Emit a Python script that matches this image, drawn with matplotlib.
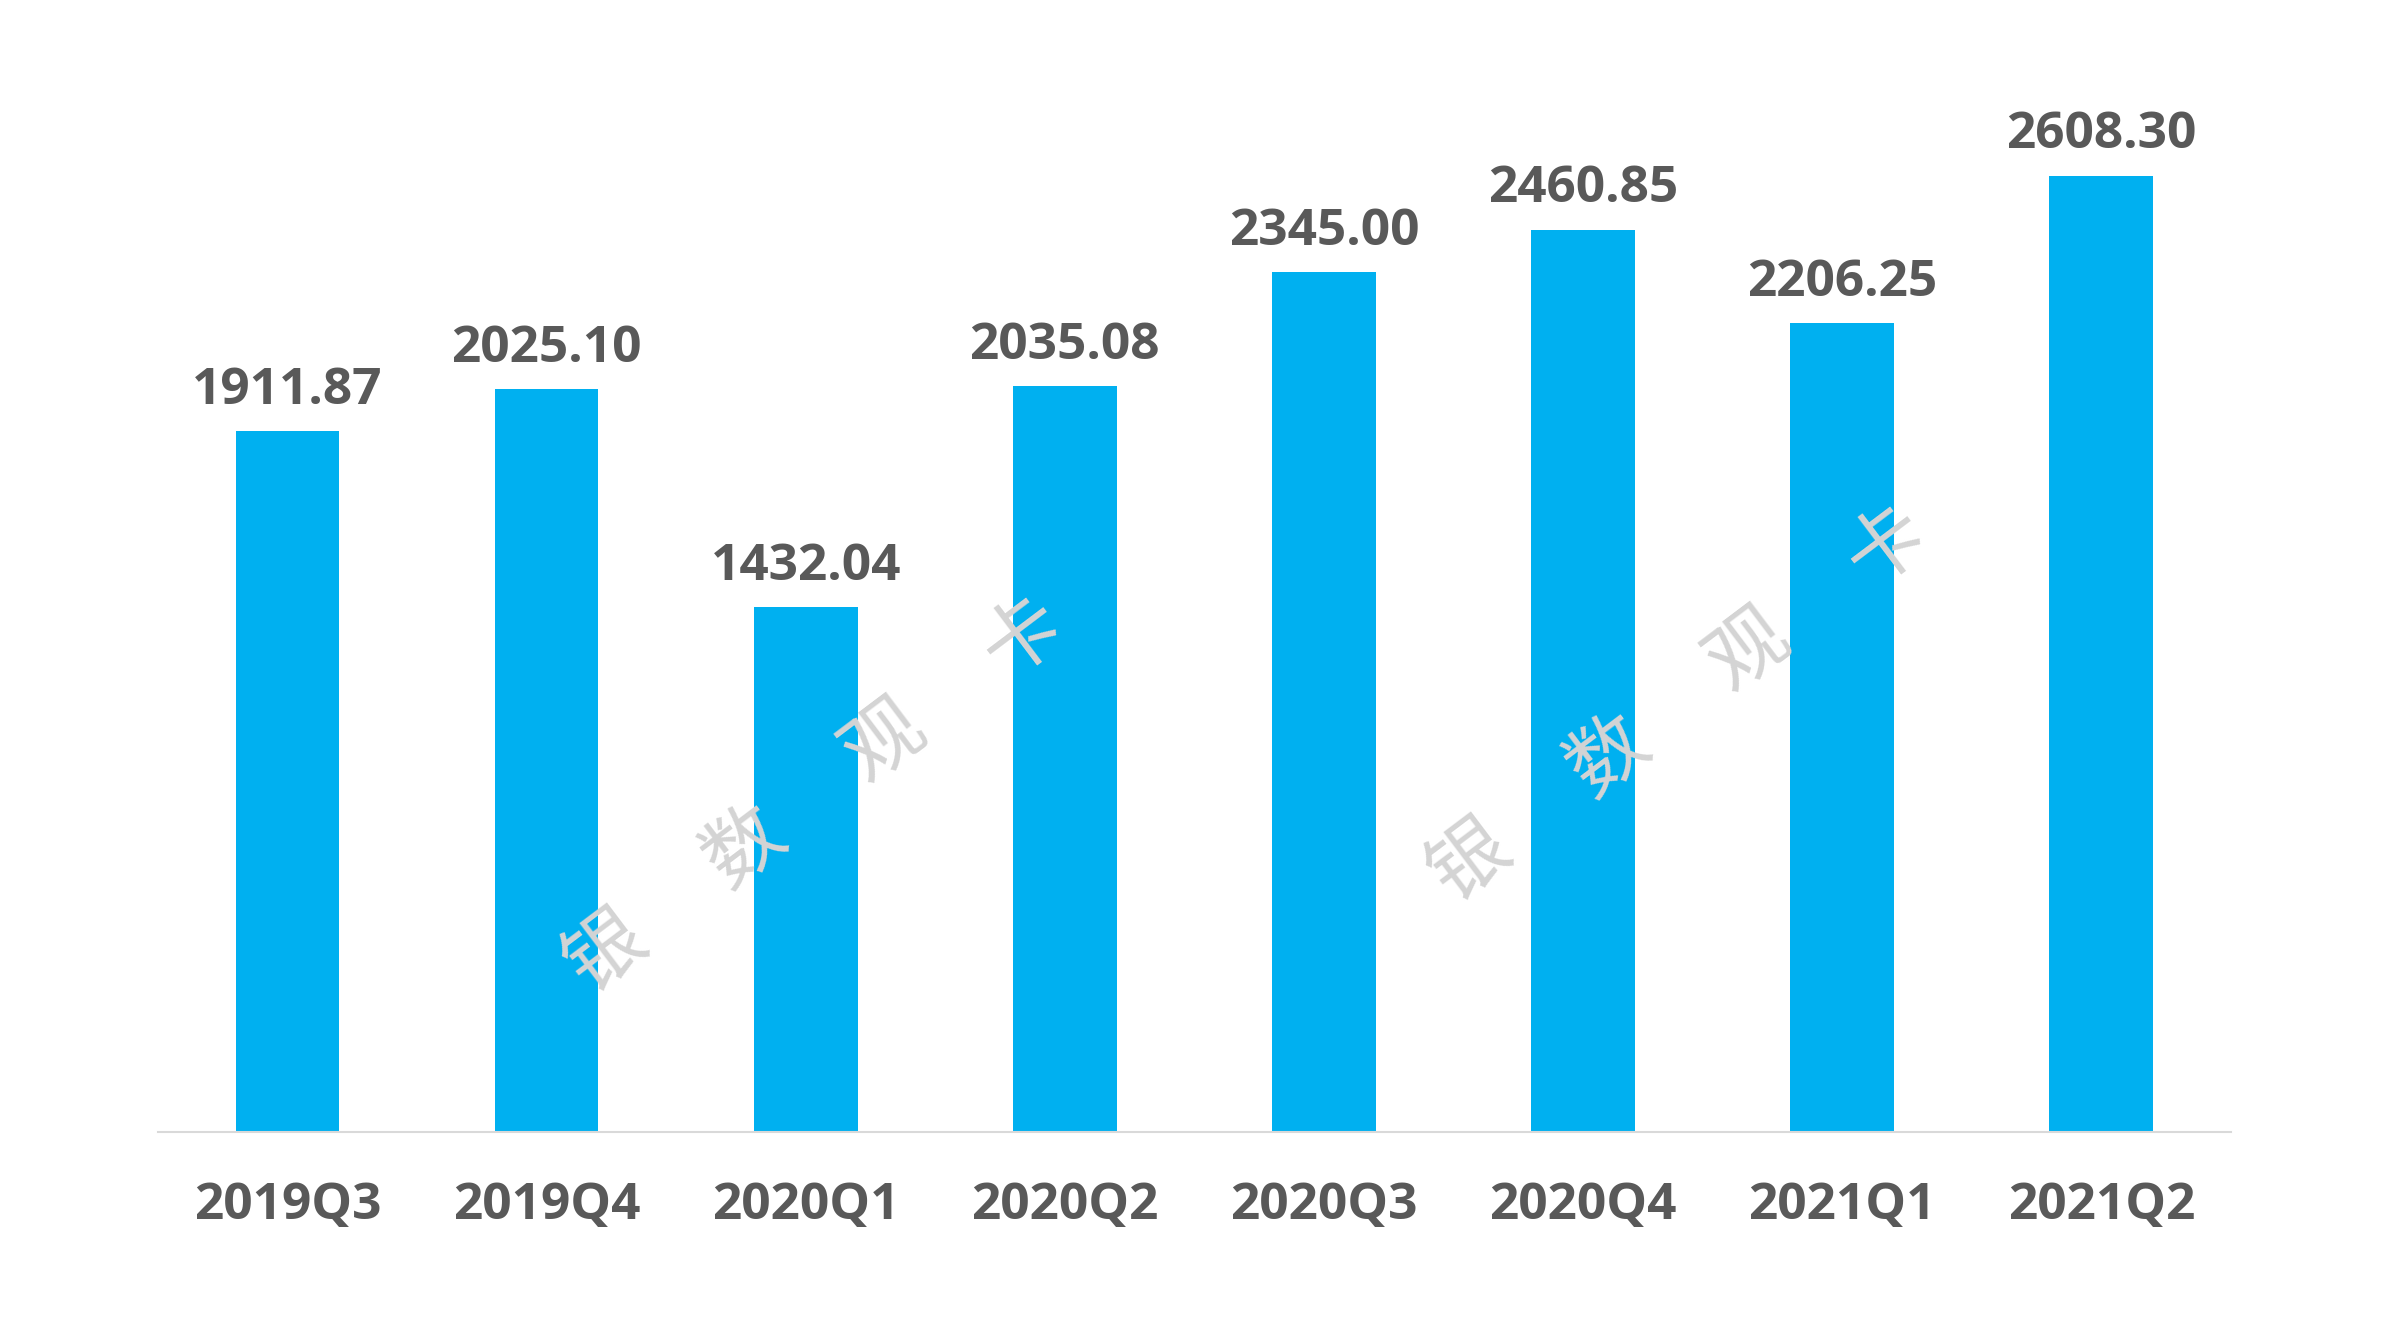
import numpy as np
import matplotlib
matplotlib.use("Agg")
import matplotlib.pyplot as plt

# quarterly values
quarters = ["2019Q3", "2019Q4", "2020Q1", "2020Q2", "2020Q3", "2020Q4", "2021Q1", "2021Q2"]
values = [1911.87, 2025.10, 1432.04, 2035.08, 2345.00, 2460.85, 2206.25, 2608.30]
watermark = ["银", "数", "观", "卡"]

bar_color = "#00B0F0"
text_color = "#595959"

fig = plt.figure(figsize=(23.89, 13.44), dpi=100)
ax = fig.add_axes([0.0661, 0.1577, 0.8677, 0.8185])

x = np.arange(len(quarters))
bars = ax.bar(x, values, width=0.4, color=bar_color, zorder=2)

ax.set_xlim(-0.5, len(quarters) - 0.5)
ax.set_ylim(0, 3000)

ax.bar_label(bars, labels=[f"{v:.2f}" for v in values], padding=11,
             fontsize=37, fontweight="bold", color=text_color, family="Open Sans")

ax.set_xticks(x)
ax.set_xticklabels(quarters, fontsize=37, fontweight="bold", color=text_color, family="Open Sans")
ax.tick_params(axis="x", length=0, pad=35)
ax.set_yticks([])

for s in ["top", "right", "left"]:
    ax.spines[s].set_visible(False)
ax.spines["bottom"].set_color("#d9d9d9")
ax.spines["bottom"].set_linewidth(1.5)

# watermark, two copies placed in figure pixels
W, H = 2389, 1344
for x0, y0 in [(606, 952), (1470, 861)]:
    for i, ch in enumerate(watermark):
        px = x0 + 139 * i
        py = y0 - 105 * i
        fig.text(px / W, 1 - py / H, ch, fontsize=57, color="#d4d4d4",
                 rotation=37, ha="center", va="center",
                 family=["Noto Sans CJK SC", "DejaVu Sans"], zorder=5)

fig.savefig("out.png", dpi=100, facecolor="white")
